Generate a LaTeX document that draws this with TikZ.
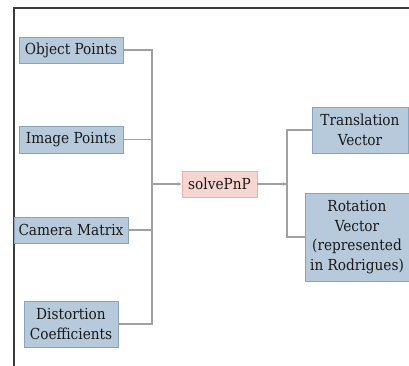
\documentclass[tikz,border=0pt]{standalone}
\usepackage{fontspec}
\setmainfont{DejaVu Serif Condensed}
\usetikzlibrary{arrows.meta}
\definecolor{boxfill}{RGB}{183,202,219}
\definecolor{boxline}{RGB}{138,163,188}
\definecolor{pinkfill}{RGB}{247,214,210}
\definecolor{pinkline}{RGB}{236,176,170}
\definecolor{conn}{RGB}{160,160,160}
\definecolor{txt}{RGB}{25,25,25}
\definecolor{frame}{RGB}{60,60,60}
\begin{document}
\begin{tikzpicture}[x=1pt,y=-1pt,
  inbox/.style={draw=boxline, fill=boxfill, line width=0.9pt, text=txt,
    font=\fontsize{15.2}{19.5}\selectfont, align=center, inner sep=0pt},
  solvebox/.style={draw=pinkline, fill=pinkfill, line width=0.9pt, text=txt,
    font=\fontsize{15.2}{19.5}\selectfont, align=center, inner sep=0pt},
  link/.style={draw=conn, line width=1.1pt},
  arr/.style={link, -{Stealth[length=4pt,width=3.5pt]}}]
\useasboundingbox (0,0) rectangle (409,365);
\draw[frame, line width=2pt] (13.5,366) -- (13.5,7.5) -- (410,7.5);
\node[inbox, minimum width=104pt, minimum height=26pt] (obj) at (71,50) {Object Points};
\node[inbox, minimum width=104pt, minimum height=27pt] (img) at (71,139.5) {Image Points};
\node[inbox, minimum width=114pt, minimum height=26pt] (cam) at (71,230) {Camera Matrix};
\node[inbox, minimum width=94pt, minimum height=46pt] (dist) at (71,324) {Distortion\\Coefficients};
\node[solvebox, minimum width=75pt, minimum height=26pt] (solve) at (219.5,184) {solvePnP};
\node[inbox, minimum width=96pt, minimum height=46pt] (trans) at (360,130) {Translation\\Vector};
\node[inbox, minimum width=104pt, minimum height=88pt] (rot) at (357,237) {Rotation\\Vector\\(represented\\in Rodrigues)};
\coordinate (b1) at (152,184);
\coordinate (b2) at (287,184);
\draw[link] (obj.east) -| (b1);
\draw[link] (dist.east) -| (b1);
\draw[link] (img.east) -- (img.east -| b1);
\draw[link] (cam.east) -- (cam.east -| b1);
\draw[arr] (b1) -- (solve.west);
\draw[arr] (solve.east) -- (b2);
\draw[link] (b2) |- (trans.west);
\draw[link] (b2) |- (rot.west);
\end{tikzpicture}
\end{document}
